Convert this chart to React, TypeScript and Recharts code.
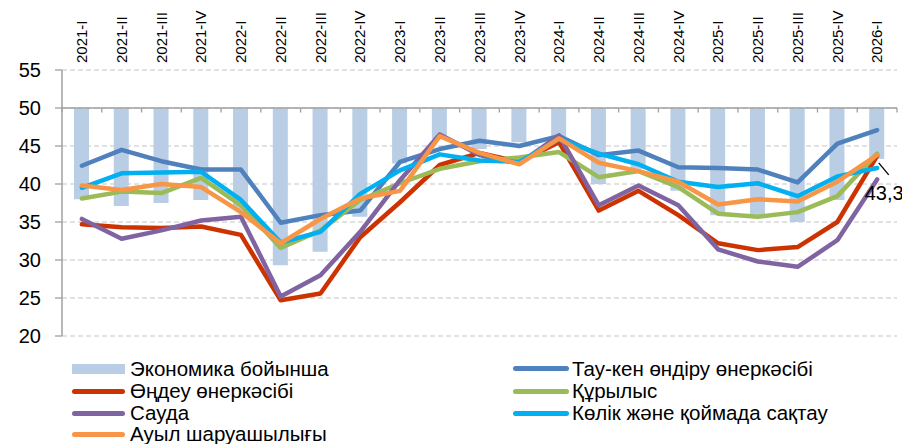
import {
  ComposedChart,
  Bar,
  Line,
  XAxis,
  YAxis,
  CartesianGrid,
  ReferenceLine,
  LabelList,
} from "recharts";

const quarters = [
  "2021-I", "2021-II", "2021-III", "2021-IV",
  "2022-I", "2022-II", "2022-III", "2022-IV",
  "2023-I", "2023-II", "2023-III", "2023-IV",
  "2024-I", "2024-II", "2024-III", "2024-IV",
  "2025-I", "2025-II", "2025-III", "2025-IV",
  "2026-I",
];

const economy = [38.0, 37.1, 37.5, 37.9, 36.6, 29.3, 31.1, 35.7, 42.7, 45.9, 44.6, 45.5, 46.2, 40.0, 42.0, 39.1, 35.9, 35.9, 35.0, 37.9, 43.3];
const mining = [42.4, 44.5, 43.0, 41.9, 41.9, 34.9, 35.9, 36.5, 42.9, 44.6, 45.7, 45.0, 46.3, 43.8, 44.4, 42.2, 42.1, 41.9, 40.2, 45.3, 47.1];
const manufacturing = [34.7, 34.3, 34.2, 34.4, 33.3, 24.7, 25.6, 33.0, 37.6, 42.5, 44.1, 42.9, 45.5, 36.5, 39.1, 35.9, 32.2, 31.3, 31.7, 35.0, 43.7];
const construction = [38.1, 39.0, 38.8, 40.8, 37.2, 31.6, 33.9, 37.9, 40.1, 42.0, 43.0, 43.5, 44.2, 40.9, 41.7, 39.6, 36.1, 35.7, 36.3, 38.4, 44.0];
const trade = [35.4, 32.8, 33.9, 35.2, 35.7, 25.2, 28.0, 33.7, 40.5, 46.5, 43.8, 42.7, 46.4, 37.2, 39.8, 37.2, 31.4, 29.8, 29.1, 32.6, 40.6];
const transport = [39.5, 41.4, 41.5, 41.6, 37.9, 32.3, 33.7, 38.7, 41.8, 43.9, 43.1, 42.9, 45.9, 44.0, 42.6, 40.3, 39.6, 40.1, 38.4, 41.0, 42.1];
const agriculture = [39.8, 39.2, 40.0, 39.6, 36.3, 32.2, 35.4, 38.1, 39.1, 46.3, 44.1, 42.6, 46.0, 42.8, 41.7, 40.3, 37.3, 38.0, 37.7, 40.3, 43.8];

const yTicks = [20, 25, 30, 35, 40, 45, 50, 55];
const BASE = 50;

const data = quarters.map((q, i) => ({
  q,
  economy: [economy[i], BASE],
  mining: mining[i],
  manufacturing: manufacturing[i],
  construction: construction[i],
  trade: trade[i],
  transport: transport[i],
  agriculture: agriculture[i],
}));

const FONT = "'Liberation Sans', Arial, sans-serif";
const AXIS = "#a0a0a0";

const lines = [
  { key: "mining", name: "Тау-кен өндіру өнеркәсібі", color: "#4f81bd" },
  { key: "manufacturing", name: "Өңдеу өнеркәсібі", color: "#cc3300" },
  { key: "construction", name: "Құрылыс", color: "#9bbb59" },
  { key: "trade", name: "Сауда", color: "#8064a2" },
  { key: "transport", name: "Көлік және қоймада сақтау", color: "#00b0f0" },
  { key: "agriculture", name: "Ауыл шаруашылығы", color: "#f79646" },
];

const QuarterTick = (props: any) => {
  const { x, y, payload } = props;
  return (
    <text
      x={x}
      y={y}
      transform={`rotate(-90, ${x}, ${y})`}
      textAnchor="start"
      dy="0.35em"
      fontSize={15}
      fontFamily={FONT}
      fill="#000"
    >
      {payload.value}
    </text>
  );
};

const AxisAt50 = (props: any) => {
  const { x1, y1, x2, y2 } = props;
  const n = quarters.length;
  const step = (x2 - x1) / n;
  const marks = [];
  for (let i = 0; i <= n; i++) {
    const x = x1 + step * i;
    marks.push(<line key={i} x1={x} y1={y1} x2={x} y2={y1 + 4.5} stroke={AXIS} strokeWidth={1.3} />);
  }
  return (
    <g>
      <line x1={x1} y1={y1} x2={x2} y2={y2} stroke={AXIS} strokeWidth={1.5} />
      {marks}
    </g>
  );
};

const LastLabel = (props: any) => {
  const { x, y, width, height, index } = props;
  if (index !== quarters.length - 1) return null;
  const cx = x + width / 2;
  const by = y + height;
  const text = economy[index].toFixed(1).replace(".", ",");
  return (
    <g>
      <line x1={cx + 2} y1={by + 4} x2={cx + 12} y2={by + 16} stroke="#000" strokeWidth={1.3} />
      <text x={cx - 12} y={by + 41} fontSize={20} fontFamily={FONT} fill="#000">
        {text}
      </text>
    </g>
  );
};

const leftLegend = [
  { name: "Экономика бойынша", color: "#b9cde5", bar: true },
  { name: lines[1].name, color: lines[1].color },
  { name: lines[3].name, color: lines[3].color },
  { name: lines[5].name, color: lines[5].color },
];
const rightLegend = [
  { name: lines[0].name, color: lines[0].color },
  { name: lines[2].name, color: lines[2].color },
  { name: lines[4].name, color: lines[4].color },
];
const rowCenters = [360.5, 383, 405, 426];

function LegendItem({ item, top, iconLeft, iconWidth, textLeft }: any) {
  return (
    <div style={{ position: "absolute", left: 0, top: top - 11, height: 22, width: 880 }}>
      <div
        style={{
          position: "absolute",
          left: iconLeft,
          width: iconWidth,
          top: item.bar ? 6 : 8.5,
          height: item.bar ? 10 : 5,
          borderRadius: item.bar ? 0 : 3,
          background: item.color,
        }}
      />
      <div
        style={{
          position: "absolute",
          left: textLeft,
          top: 0,
          lineHeight: "22px",
          fontSize: 20.5,
          fontFamily: FONT,
          color: "#000",
          whiteSpace: "nowrap",
        }}
      >
        {item.name}
      </div>
    </div>
  );
}

export default function App() {
  return (
    <div style={{ position: "relative", width: 902, height: 436 }}>
      <ComposedChart
        width={902}
        height={436}
        data={data}
        margin={{ top: 2, right: 13, left: 0, bottom: 108 }}
        style={{ overflow: "visible" }}
      >
        <CartesianGrid vertical={false} stroke="#d9d9d9" strokeDasharray="5 3" strokeWidth={1.3} />
        <XAxis
          dataKey="q"
          orientation="top"
          height={60}
          axisLine={false}
          tickLine={false}
          tickSize={0}
          tickMargin={7}
          interval={0}
          tick={<QuarterTick />}
        />
        <YAxis
          domain={[20, 55]}
          ticks={yTicks}
          interval={0}
          width={54}
          tickSize={7}
          tickMargin={14}
          axisLine={{ stroke: AXIS, strokeWidth: 1.5 }}
          tickLine={{ stroke: AXIS, strokeWidth: 1.3 }}
          tick={{ fontSize: 20, fontFamily: FONT, fill: "#000" }}
        />
        <Bar dataKey="economy" fill="#b9cde5" barSize={15} isAnimationActive={false}>
          <LabelList dataKey="economy" content={<LastLabel />} />
        </Bar>
        <ReferenceLine y={BASE} shape={<AxisAt50 />} />
        {lines.map((l) => (
          <Line
            key={l.key}
            dataKey={l.key}
            name={l.name}
            stroke={l.color}
            strokeWidth={4.5}
            strokeLinejoin="round"
            strokeLinecap="round"
            dot={false}
            activeDot={false}
            type="linear"
            isAnimationActive={false}
          />
        ))}
      </ComposedChart>
      {leftLegend.map((item, i) => (
        <LegendItem key={item.name} item={item} top={rowCenters[i]} iconLeft={64} iconWidth={53} textLeft={122} />
      ))}
      {rightLegend.map((item, i) => (
        <LegendItem key={item.name} item={item} top={rowCenters[i]} iconLeft={505} iconWidth={56} textLeft={564} />
      ))}
    </div>
  );
}
